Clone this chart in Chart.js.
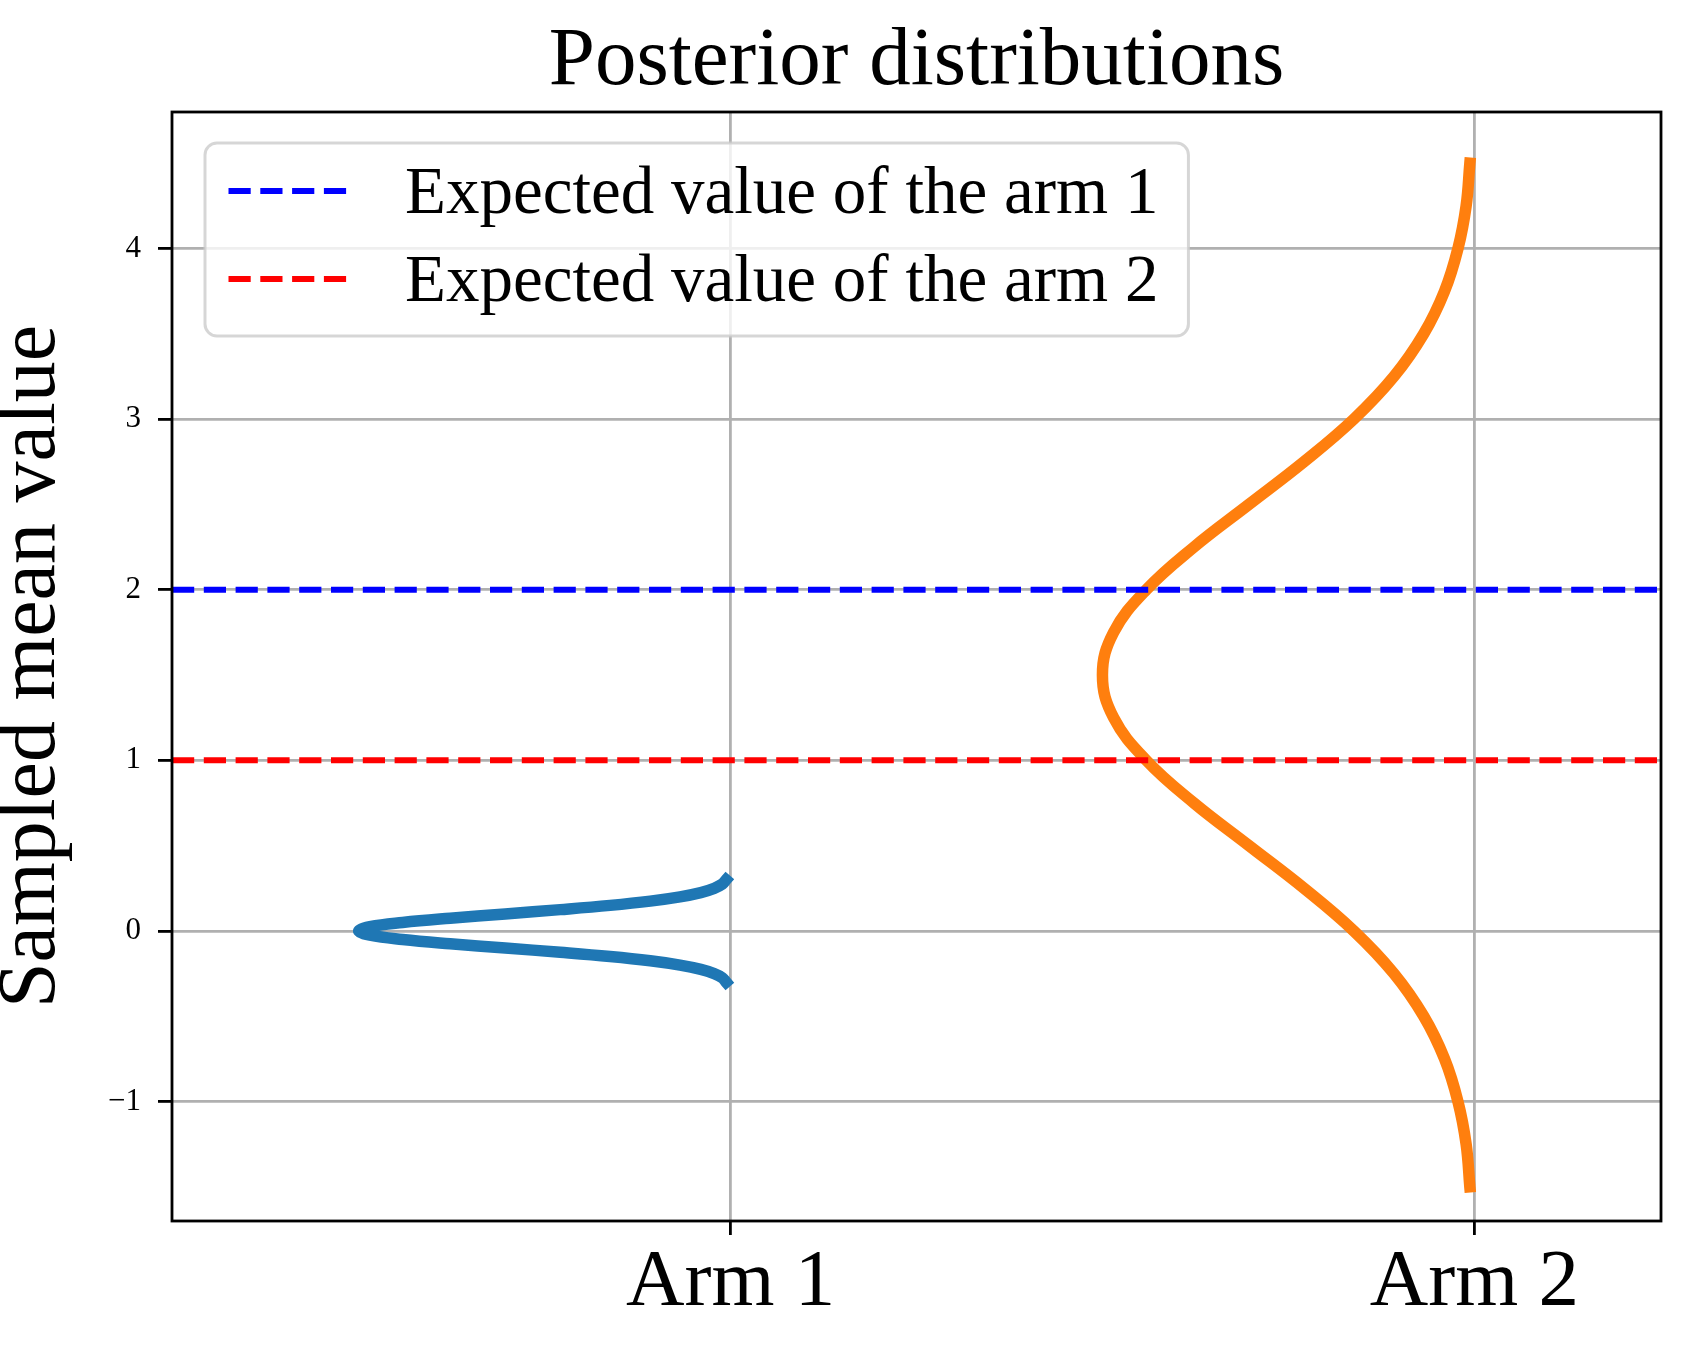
<!DOCTYPE html>
<html>
<head>
<meta charset="utf-8">
<title>Posterior distributions</title>
<script src="https://cdn.jsdelivr.net/npm/chart.js@4.4.1/dist/chart.umd.min.js"></script>
<style>
  html, body { margin: 0; padding: 0; background: #fff; }
  #wrap { width: 1690px; height: 1354px; }
</style>
</head>
<body>
<div id="wrap"><canvas id="chart"></canvas></div>
<script>
'use strict';

// axis limits and ticks
const xLimits = [0.249, 2.251];
const yLimits = [-1.7, 4.8];
const yTicks = [-1, 0, 1, 2, 3, 4];
const armPositions = [1, 2];
const armLabels = ['Arm 1', 'Arm 2'];

// expected values (dashed lines)
const expectedLabels = ['Expected value of the arm 1', 'Expected value of the arm 2'];
const expectedValues = [2, 1];
const expectedColors = ['#0000ff', '#ff0000'];

// posterior curve of arm 1 (sampled mean -> horizontal position)
const arm1Y = [-0.3, -0.275, -0.25, -0.225, -0.2, -0.175, -0.15, -0.125, -0.1, -0.075, -0.05, -0.025, 0,
  0.025, 0.05, 0.075, 0.1, 0.125, 0.15, 0.175, 0.2, 0.225, 0.25, 0.275, 0.3];
const arm1X = [0.994, 0.989, 0.978, 0.960, 0.932, 0.892, 0.838, 0.771, 0.697, 0.623, 0.559, 0.515, 0.500,
  0.515, 0.559, 0.623, 0.697, 0.771, 0.838, 0.892, 0.932, 0.960, 0.978, 0.989, 0.994];

// posterior curve of arm 2
const arm2Y = [-1.5, -1.25, -1, -0.75, -0.5, -0.25, 0, 0.25, 0.5, 0.75, 1, 1.25, 1.5,
  1.75, 2, 2.25, 2.5, 2.75, 3, 3.25, 3.5, 3.75, 4, 4.25, 4.5];
const arm2X = [1.994, 1.989, 1.978, 1.960, 1.932, 1.892, 1.838, 1.771, 1.697, 1.623, 1.559, 1.515, 1.500,
  1.515, 1.559, 1.623, 1.697, 1.771, 1.838, 1.892, 1.932, 1.960, 1.978, 1.989, 1.994];

const FONT = "'Liberation Serif', 'DejaVu Serif', serif";
const dash = [22.2, 9.6];

function curve(xs, ys) {
  return ys.map(function (y, i) { return { x: xs[i], y: y }; });
}

let datasets = [];
for (let i = 0; i < expectedValues.length; i++) {
  datasets.push({
    label: expectedLabels[i],
    inLegend: true,
    data: [{ x: xLimits[0], y: expectedValues[i] }, { x: xLimits[1], y: expectedValues[i] }],
    borderColor: expectedColors[i],
    borderWidth: 6,
    borderDash: dash,
    borderCapStyle: 'butt',
    showLine: true,
    pointRadius: 0,
    tension: 0
  });
}
datasets.push({
  label: 'arm1',
  data: curve(arm1X, arm1Y),
  borderColor: '#1f77b4',
  borderWidth: 11.5,
  borderCapStyle: 'square',
  showLine: true,
  pointRadius: 0,
  tension: 0.4
});
datasets.push({
  label: 'arm2',
  data: curve(arm2X, arm2Y),
  borderColor: '#ff7f0e',
  borderWidth: 11.5,
  borderCapStyle: 'square',
  showLine: true,
  pointRadius: 0,
  tension: 0.4
});

// black frame round the plot area
const framePlugin = {
  id: 'frame',
  afterDatasetsDraw(chart) {
    const a = chart.chartArea;
    const ctx = chart.ctx;
    ctx.save();
    ctx.strokeStyle = '#000';
    ctx.lineWidth = 2.8;
    ctx.strokeRect(a.left, a.top, a.right - a.left, a.bottom - a.top);
    ctx.restore();
  }
};

// matplotlib style legend in the upper left corner
const legendPlugin = {
  id: 'boxLegend',
  afterDraw(chart) {
    const a = chart.chartArea;
    const ctx = chart.ctx;
    const items = chart.data.datasets.filter(d => d.inLegend);
    ctx.save();
    ctx.font = '67px ' + FONT;
    let textW = 0;
    items.forEach(d => { textW = Math.max(textW, ctx.measureText(d.label).width); });
    const x0 = a.left + 33;
    const y0 = a.top + 31;
    const w = 200 + textW + 30;
    const h = 193;
    ctx.beginPath();
    ctx.roundRect(x0, y0, w, h, 12);
    ctx.fillStyle = 'rgba(255,255,255,0.8)';
    ctx.fill();
    ctx.lineWidth = 3;
    ctx.strokeStyle = 'rgba(204,204,204,0.8)';
    ctx.stroke();
    items.forEach((d, i) => {
      const cy = y0 + 48 + i * 88;
      ctx.beginPath();
      ctx.setLineDash(d.borderDash);
      ctx.lineWidth = d.borderWidth;
      ctx.strokeStyle = d.borderColor;
      ctx.moveTo(x0 + 23.5, cy);
      ctx.lineTo(x0 + 146.5, cy);
      ctx.stroke();
      ctx.setLineDash([]);
      ctx.fillStyle = '#000';
      ctx.textBaseline = 'alphabetic';
      ctx.textAlign = 'left';
      ctx.fillText(d.label, x0 + 200, cy + 22);
    });
    ctx.restore();
  }
};

const ctx = document.getElementById('chart').getContext('2d');
const myChart = new Chart(ctx, {
  type: 'scatter',
  data: { datasets: datasets },
  options: {
    responsive: true,
    maintainAspectRatio: false,
    animation: false,
    events: [],
    layout: { padding: { left: 0, right: 29, top: 0, bottom: 0 } },
    plugins: {
      legend: { display: false },
      tooltip: { enabled: false },
      title: {
        display: true,
        fullSize: false,
        text: 'Posterior distributions',
        color: '#000',
        font: { family: FONT, size: 83, weight: 'normal', lineHeight: 1.1 },
        padding: { top: 17, bottom: 3.7 }
      }
    },
    scales: {
      x: {
        type: 'linear',
        min: xLimits[0],
        max: xLimits[1],
        afterBuildTicks: (scale) => { scale.ticks = armPositions.map(v => ({ value: v })); },
        afterFit: (scale) => { scale.height = 133; },
        ticks: {
          color: '#000',
          font: { family: FONT, size: 81 },
          padding: 0,
          maxRotation: 0,
          callback: (v) => armLabels[armPositions.indexOf(v)]
        },
        grid: { color: '#b0b0b0', lineWidth: 2.8, tickColor: '#000', tickLength: 14, tickWidth: 2.8 },
        border: { display: false }
      },
      y: {
        type: 'linear',
        min: yLimits[0],
        max: yLimits[1],
        afterBuildTicks: (scale) => { scale.ticks = yTicks.map(v => ({ value: v })); },
        afterFit: (scale) => { scale.width = 172; },
        ticks: {
          color: '#000',
          font: { family: FONT, size: 31 },
          padding: 17,
          callback: (v) => (v < 0 ? '\u2212' + Math.abs(v) : String(v))
        },
        grid: { color: '#b0b0b0', lineWidth: 2.8, tickColor: '#000', tickLength: 14, tickWidth: 2.8 },
        border: { display: false },
        title: {
          display: true,
          text: 'Sampled mean value',
          color: '#000',
          font: { family: FONT, size: 82, lineHeight: 0.8 },
          padding: { top: 0, bottom: 0 }
        }
      }
    }
  },
  plugins: [framePlugin, legendPlugin]
});
</script>
</body>
</html>
